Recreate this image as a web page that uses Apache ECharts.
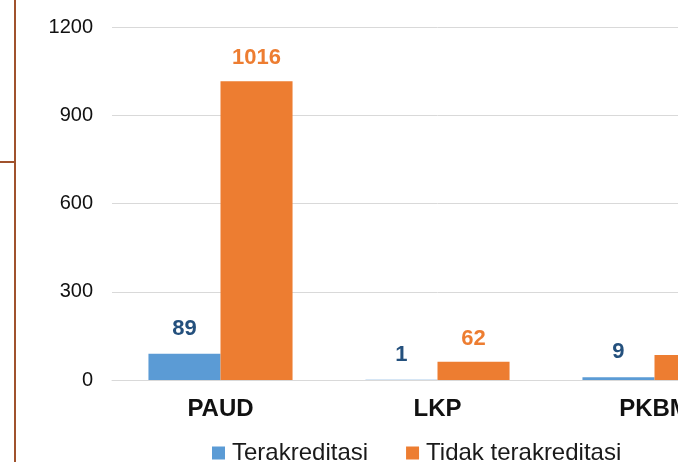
<!DOCTYPE html>
<html lang="id">
<head>
<meta charset="UTF-8">
<title>Akreditasi lembaga</title>
<script src="https://cdn.jsdelivr.net/npm/echarts@6/dist/echarts.min.js"></script>
<style>
  html, body { margin: 0; padding: 0; background: #fff; overflow: hidden; }
  /* lebih lebar dari jendela: kategori ketiga terpotong seperti di gambar */
  #chart { width: 800px; height: 462px; }
</style>
</head>
<body>
<div id="chart"></div>
<script>
  // data
  var kategori = ['PAUD', 'LKP', 'PKBM'];
  var terakreditasi = [89, 1, 9];
  var tidakTerakreditasi = [1016, 62, 85];
  var yTicks = [0, 300, 600, 900, 1200];

  var chart = echarts.init(document.getElementById('chart'));

  chart.setOption({
    animation: false,
    textStyle: { fontFamily: 'Liberation Sans, Arial, sans-serif' },
    grid: { left: 112, right: 37, top: 27, bottom: 82 },
    legend: {
      top: 436,
      left: 207,
      itemWidth: 13,
      itemHeight: 13,
      itemGap: 38,
      icon: 'rect',
      textStyle: { fontSize: 24, color: '#1a1a1a', padding: [0, 0, 0, 2] },
      data: ['Terakreditasi', 'Tidak terakreditasi']
    },
    xAxis: {
      type: 'category',
      data: kategori,
      axisLine: { lineStyle: { color: '#d9d9d9' } },
      axisTick: { show: false },
      axisLabel: { fontSize: 24, fontWeight: 'bold', color: '#111', margin: 17 }
    },
    yAxis: {
      type: 'value',
      min: yTicks[0],
      max: yTicks[yTicks.length - 1],
      interval: 300,
      axisLine: { show: false },
      axisTick: { show: false },
      splitLine: { lineStyle: { color: '#d9d9d9', width: 1 } },
      axisLabel: { fontSize: 20, color: '#111', margin: 19, formatter: function (v) { return String(v); } }
    },
    series: [
      {
        name: 'Terakreditasi',
        type: 'bar',
        data: terakreditasi,
        barGap: '0%',
        barCategoryGap: '33.6%',
        itemStyle: { color: '#5b9bd5' },
        label: {
          show: true, position: 'top', distance: 14,
          fontSize: 22, fontWeight: 'bold', color: '#24507d'
        }
      },
      {
        name: 'Tidak terakreditasi',
        type: 'bar',
        data: tidakTerakreditasi,
        barGap: '0%',
        barCategoryGap: '33.6%',
        itemStyle: { color: '#ed7d31' },
        label: {
          show: true, position: 'top', distance: 12,
          fontSize: 22, fontWeight: 'bold', color: '#ed7d31'
        }
      }
    ],
    graphic: [
      { type: 'rect', left: 14, top: 0, shape: { width: 2, height: 462 }, style: { fill: '#a0522d' } },
      { type: 'rect', left: 0, top: 161, shape: { width: 14, height: 2 }, style: { fill: '#a0522d' } }
    ]
  });
</script>
</body>
</html>
